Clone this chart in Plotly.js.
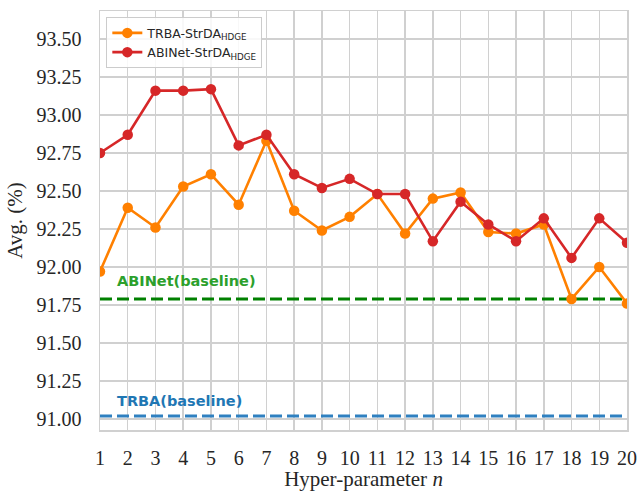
<!DOCTYPE html>
<html>
<head>
<meta charset="utf-8">
<script src="https://cdn.plot.ly/plotly-3.0.1.min.js"></script>
<style>html,body{margin:0;padding:0;background:#fff;} #chart{width:640px;height:491px;}</style>
</head>
<body>
<div id="chart"></div>
<script>
const nValues = [1,2,3,4,5,6,7,8,9,10,11,12,13,14,15,16,17,18,19,20];
const trbaStrDA = [91.97,92.39,92.26,92.53,92.61,92.41,92.83,92.37,92.24,92.33,92.48,92.22,92.45,92.49,92.23,92.22,92.28,91.79,92.00,91.76];
const abinetStrDA = [92.75,92.87,93.16,93.16,93.17,92.80,92.87,92.61,92.52,92.58,92.48,92.48,92.17,92.43,92.28,92.17,92.32,92.06,92.32,92.16];
const abinetBaseline = 91.79;
const trbaBaseline = 91.02;
const yTicks = [91.00,91.25,91.50,91.75,92.00,92.25,92.50,92.75,93.00,93.25,93.50];
const seriesNames = ['TRBA-StrDA<sub>HDGE</sub>','ABINet-StrDA<sub>HDGE</sub>'];
const baselineLabels = ['ABINet(baseline)','TRBA(baseline)'];

const xEnds = [nValues[0], nValues[nValues.length-1]];

const traces = [
  {x: xEnds, y: [abinetBaseline, abinetBaseline], mode:'lines', showlegend:false,
   line:{color:'#008000', width:3, dash:'12px,5px'}, hoverinfo:'skip'},
  {x: xEnds, y: [trbaBaseline, trbaBaseline], mode:'lines', showlegend:false,
   line:{color:'#2f80c0', width:3, dash:'12px,5px'}, hoverinfo:'skip'},
  {x: nValues, y: trbaStrDA, name: seriesNames[0], mode:'lines+markers',
   line:{color:'#ff8000', width:2.6}, marker:{color:'#ff8000', size:10.5}, cliponaxis:true},
  {x: nValues, y: abinetStrDA, name: seriesNames[1], mode:'lines+markers',
   line:{color:'#d62728', width:2.6}, marker:{color:'#d62728', size:10.5}, cliponaxis:true}
];

const layout = {
  width:640, height:491,
  margin:{l:100, r:13, t:11, b:61},
  paper_bgcolor:'#fff', plot_bgcolor:'#fff',
  font:{family:'Liberation Serif, Times New Roman, serif', color:'#262626'},
  xaxis:{
    range:[1,20], tickvals:nValues, ticktext:nValues.map(String),
    showgrid:true, gridcolor:'#d0d0d0', gridwidth:1.5,
    zeroline:false, showline:true, mirror:true, linecolor:'#d0d0d0', linewidth:1.5,
    ticks:'', tickfont:{size:20, color:'#262626'}, ticklabelstandoff:9,
    title:{text:'Hyper-parameter <i>n</i>', font:{size:21, color:'#262626'}, standoff:6}
  },
  yaxis:{
    range:[90.928,93.684], tickvals:yTicks, ticktext:yTicks.map(v=>v.toFixed(2)),
    showgrid:true, gridcolor:'#d0d0d0', gridwidth:1.5,
    zeroline:false, showline:true, mirror:true, linecolor:'#d0d0d0', linewidth:1.5,
    ticks:'', tickfont:{size:20, color:'#262626'}, ticklabelstandoff:13,
    title:{text:'Avg. (%)', font:{size:21, color:'#262626'}, standoff:8}
  },
  legend:{
    x:0.012, y:0.985, xanchor:'left', yanchor:'top',
    bgcolor:'rgba(255,255,255,0.85)', bordercolor:'#cccccc', borderwidth:1,
    font:{family:'DejaVu Sans, sans-serif', size:12.5, color:'#262626'},
    itemwidth:30, tracegroupgap:0
  },
  annotations:[
    {x:1.54, y:91.908, xref:'x', yref:'y', xanchor:'left', yanchor:'middle', showarrow:false,
     text:'<b>'+baselineLabels[0]+'</b>', font:{family:'DejaVu Sans, sans-serif', size:14.5, color:'#2ca02c'}},
    {x:1.54, y:91.118, xref:'x', yref:'y', xanchor:'left', yanchor:'middle', showarrow:false,
     text:'<b>'+baselineLabels[1]+'</b>', font:{family:'DejaVu Sans, sans-serif', size:14.5, color:'#1f77b4'}}
  ],
  showlegend:true
};

Plotly.newPlot('chart', traces, layout, {staticPlot:true, displayModeBar:false});
</script>
</body>
</html>
